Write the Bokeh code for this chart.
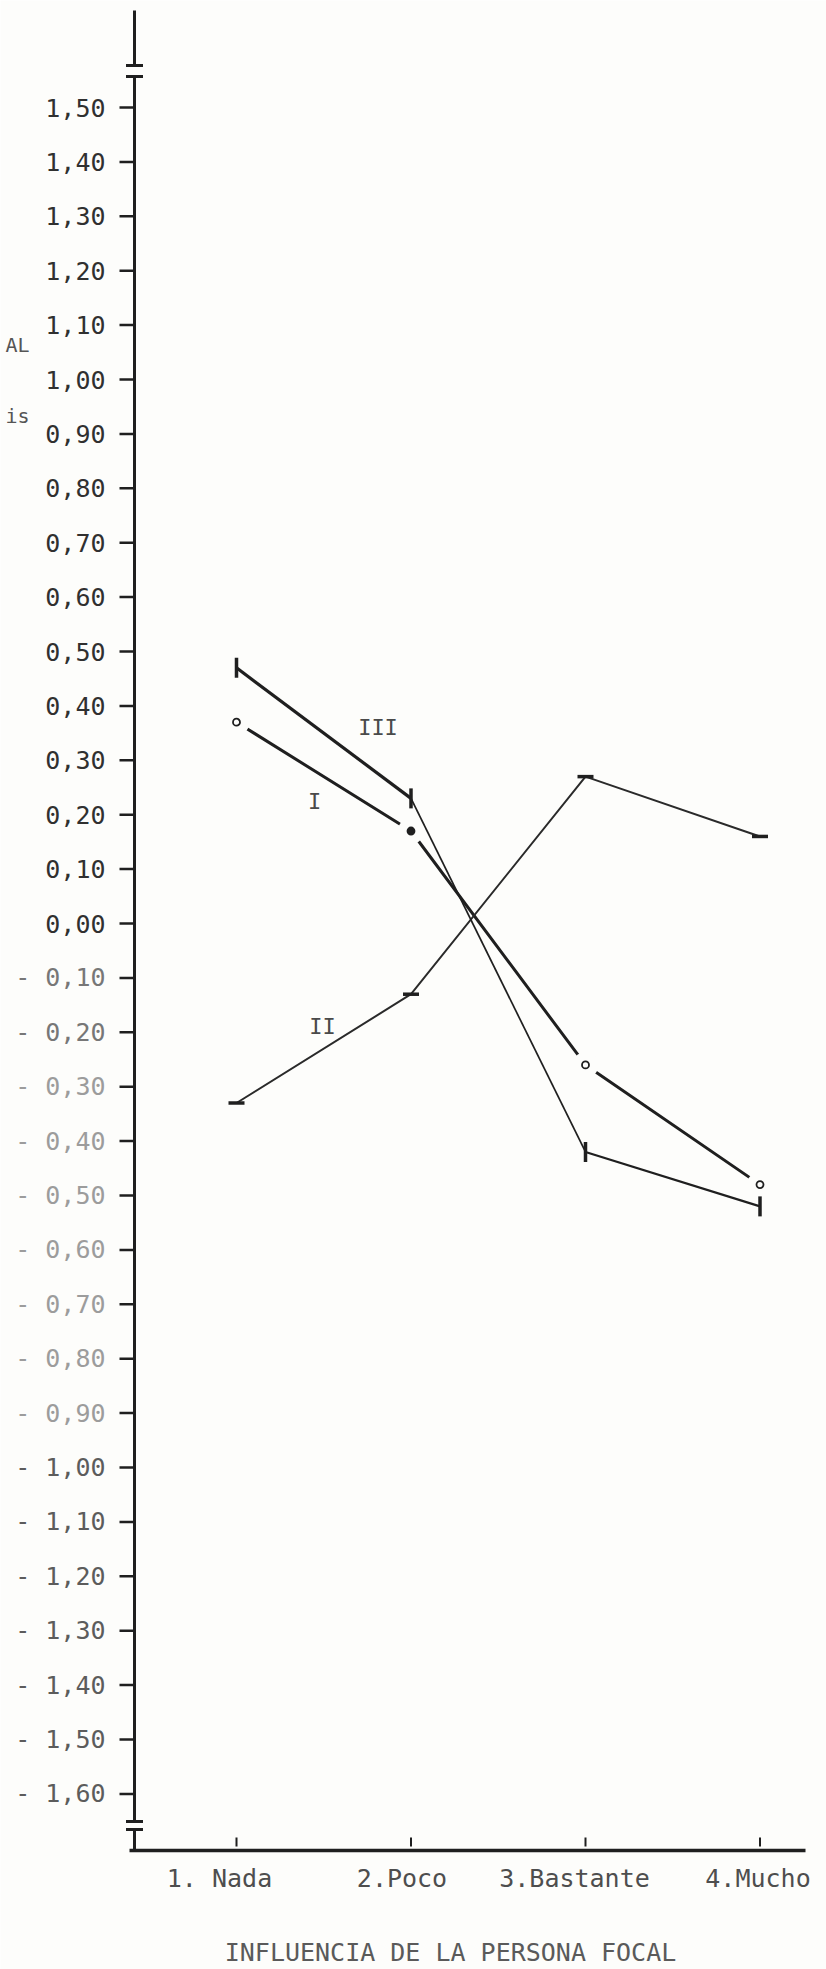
from bokeh.plotting import figure
from bokeh.models import Range1d, ColumnDataSource
from bokeh.core.properties import value
from bokeh.embed import file_html
from bokeh.resources import INLINE
import math

# ---------------- data ----------------
categories = ["1. Nada", "2.Poco", "3.Bastante", "4.Mucho"]
cat_pos = [1, 2, 3, 4]
serie_I = [0.37, 0.17, -0.26, -0.48]
serie_II = [-0.33, -0.13, 0.27, 0.16]
serie_III = [0.47, 0.23, -0.42, -0.52]
series_names = ["I", "II", "III"]

y_tick_values = [1.5, 1.4, 1.3, 1.2, 1.1, 1.0, 0.9, 0.8, 0.7, 0.6, 0.5, 0.4, 0.3, 0.2, 0.1, 0.0,
                 -0.1, -0.2, -0.3, -0.4, -0.5, -0.6, -0.7, -0.8, -0.9, -1.0,
                 -1.1, -1.2, -1.3, -1.4, -1.5, -1.6]
y_tick_labels = ["1,50", "1,40", "1,30", "1,20", "1,10", "1,00", "0,90", "0,80", "0,70", "0,60",
                 "0,50", "0,40", "0,30", "0,20", "0,10", "0,00",
                 "- 0,10", "- 0,20", "- 0,30", "- 0,40", "- 0,50", "- 0,60", "- 0,70", "- 0,80",
                 "- 0,90", "- 1,00", "- 1,10", "- 1,20", "- 1,30", "- 1,40", "- 1,50", "- 1,60"]
x_title = "INFLUENCIA DE LA PERSONA FOCAL"
left_fragments = ["AL", "is"]

# ---------------- layout / style ----------------
W, H = 826, 1969
CAT_PX, CAT1_PX = 174.5, 236.0     # pixels per category step, pixel of category 1
UNIT_PX, ZERO_PX = 544.0, 923.0    # pixels per unit, pixel of value 0


def xd(px):
    return 1 + (px - CAT1_PX) / CAT_PX


def yd(px):
    return (ZERO_PX - px) / UNIT_PX


PAPER = "#fdfdfb"
INK = "#1f1f1f"
FONT = "DejaVu Sans Mono"
AXIS_X = xd(134)
AXIS_TOP = yd(10)
BASE_Y = yd(1850)

p = figure(width=W, height=H,
           x_range=Range1d(xd(0), xd(W)),
           y_range=Range1d(yd(H), yd(0)),
           output_backend="svg", toolbar_location=None,
           x_axis_location=None, y_axis_location=None,
           min_border=0, min_border_left=0, min_border_right=0,
           min_border_top=0, min_border_bottom=0,
           background_fill_color=PAPER, border_fill_color=PAPER,
           outline_line_color=None)
p.grid.grid_line_color = None

# ---- vertical axis ----
p.segment(x0=[AXIS_X], y0=[AXIS_TOP], x1=[AXIS_X], y1=[BASE_Y], line_width=3, line_color=INK)
p.segment(x0=[xd(119)] * len(y_tick_values), y0=y_tick_values,
          x1=[AXIS_X] * len(y_tick_values), y1=y_tick_values,
          line_width=2.5, line_color=INK)


def label_color(v):
    if v >= 0:
        return "#303030"
    if v > -0.25:
        return "#777777"
    if v > -0.95:
        return "#9c9c9c"
    return "#5c5c5c"


ysrc = ColumnDataSource(dict(x=[xd(105)] * len(y_tick_values), y=y_tick_values,
                             text=y_tick_labels,
                             color=[label_color(v) for v in y_tick_values]))
p.text(x="x", y="y", text="text", source=ysrc, text_align="right", text_baseline="middle",
       text_font=value(FONT), text_font_size=value("25px"), text_color="color")

# axis breaks on the vertical axis
break_bars = [yd(65), yd(76), yd(1821), yd(1829)]
gap_mid = [(break_bars[0] + break_bars[1]) / 2, (break_bars[2] + break_bars[3]) / 2]
gap_h = [break_bars[0] - break_bars[1], break_bars[2] - break_bars[3]]
p.rect(x=[AXIS_X, AXIS_X], y=gap_mid, width=12, width_units="screen", height=gap_h,
       fill_color=PAPER, line_color=None)
p.scatter(x=[AXIS_X] * 4, y=break_bars, marker="dash", size=17, line_width=3, line_color=INK)

# ---- horizontal axis ----
p.segment(x0=[xd(129)], y0=[BASE_Y], x1=[xd(805)], y1=[BASE_Y], line_width=3.5, line_color=INK)
p.segment(x0=cat_pos, y0=[yd(1837)] * 4, x1=cat_pos, y1=[yd(1846)] * 4,
          line_width=2, line_color=INK)
cat_label_offsets = [-17, -9, -11, -2]
xsrc = ColumnDataSource(dict(x=cat_pos, y=[yd(1878)] * 4, text=categories, off=cat_label_offsets))
p.text(x="x", y="y", text="text", x_offset="off", source=xsrc, text_align="center",
       text_baseline="middle", text_font=value(FONT), text_font_size=value("25px"),
       text_color="#4e4e4e")
p.text(x=[xd(450)], y=[yd(1952)], text=[x_title], text_align="center", text_baseline="middle",
       text_font=value(FONT), text_font_size=value("25px"), text_color="#5a5a5a")

# cut-off fragments of the left page (kept fully visible)
p.text(x=[xd(29), xd(29)], y=[yd(344), yd(415)], text=left_fragments, text_align="right",
       text_baseline="middle", text_font=value(FONT), text_font_size=value("20px"),
       text_color="#555555")

# ---- series I (circles, line interrupted at markers) ----
p.line(cat_pos, serie_I, line_width=3, line_color=INK)
p.scatter(cat_pos, serie_I, marker="circle", size=26, fill_color=PAPER, line_color=None)

# ---- series II (horizontal dashes) ----
p.line(cat_pos, serie_II, line_width=2, line_color="#2a2a2a")
p.scatter(cat_pos, serie_II, marker="dash", size=16, line_width=3.5, line_color=INK)

# ---- series III (vertical bars) ----
p.segment(x0=cat_pos[:-1], y0=serie_III[:-1], x1=cat_pos[1:], y1=serie_III[1:],
          line_width=[3.2, 1.7, 2.2], line_color=INK)
p.scatter(cat_pos, serie_III, marker="dash", angle=math.pi / 2, size=20, line_width=3.5,
          line_color=INK)

# markers of series I on top
I_fill = [PAPER, INK, PAPER, PAPER]
p.scatter(cat_pos, serie_I, marker="circle", size=7, fill_color=I_fill, line_color=INK,
          line_width=1.8)

# series labels
series_label_px = {"I": (314, 801), "II": (322, 1026), "III": (377.5, 726.7)}
p.text(x=[xd(series_label_px[n][0]) for n in series_names],
       y=[yd(series_label_px[n][1]) for n in series_names],
       text=series_names, text_align="center", text_baseline="middle",
       text_font=value(FONT), text_font_size=value("22px"), text_color="#4a4a4a")

open("out.html", "w").write(file_html(p, INLINE))
